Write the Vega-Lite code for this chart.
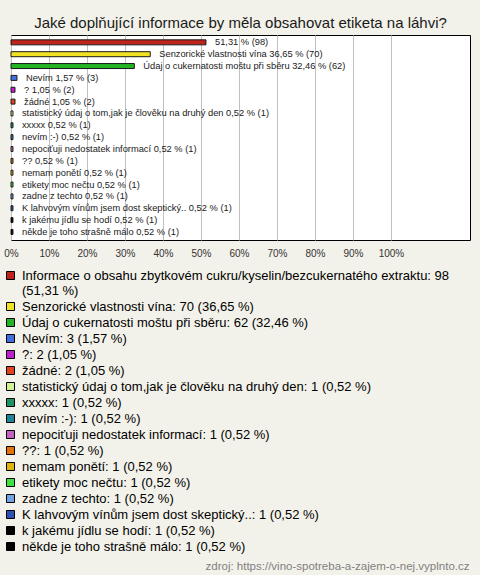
{
  "$schema": "https://vega.github.io/schema/vega-lite/v6.json",
  "width": 459,
  "height": 205,
  "autosize": "none",
  "padding": {"left": 11, "top": 35, "right": 10, "bottom": 335},
  "background": "#f3f2ea",
  "title": {
    "text": "Jaké doplňující informace by měla obsahovat etiketa na láhvi?",
    "font": "Liberation Sans",
    "fontSize": 15,
    "fontWeight": "normal",
    "color": "#1a1a1a",
    "anchor": "middle",
    "baseline": "alphabetic",
    "offset": 9,
    "dy": 17
  },
  "config": {
    "view": {"stroke": "#000000", "strokeWidth": 1, "fill": "#ffffff"},
    "font": "Liberation Sans"
  },
  "data": {
    "values": [
      {"name": "Informace o obsahu zbytkovém cukru/kyselin/bezcukernatého extraktu", "count": 98, "pct": 51.31, "label": "51,31 % (98)", "legend": "Informace o obsahu zbytkovém cukru/kyselin/bezcukernatého extraktu: 98 (51,31 %)"},
      {"name": "Senzorické vlastnosti vína", "count": 70, "pct": 36.65, "label": "Senzorické vlastnosti vína 36,65 % (70)", "legend": "Senzorické vlastnosti vína: 70 (36,65 %)"},
      {"name": "Údaj o cukernatosti moštu při sběru", "count": 62, "pct": 32.46, "label": "Údaj o cukernatosti moštu při sběru 32,46 % (62)", "legend": "Údaj o cukernatosti moštu při sběru: 62 (32,46 %)"},
      {"name": "Nevím", "count": 3, "pct": 1.57, "label": "Nevím 1,57 % (3)", "legend": "Nevím: 3 (1,57 %)"},
      {"name": "?", "count": 2, "pct": 1.05, "label": "? 1,05 % (2)", "legend": "?: 2 (1,05 %)"},
      {"name": "žádné", "count": 2, "pct": 1.05, "label": "žádné 1,05 % (2)", "legend": "žádné: 2 (1,05 %)"},
      {"name": "statistický údaj o tom,jak je člověku na druhý den", "count": 1, "pct": 0.52, "label": "statistický údaj o tom,jak je člověku na druhý den 0,52 % (1)", "legend": "statistický údaj o tom,jak je člověku na druhý den: 1 (0,52 %)"},
      {"name": "xxxxx", "count": 1, "pct": 0.52, "label": "xxxxx 0,52 % (1)", "legend": "xxxxx: 1 (0,52 %)"},
      {"name": "nevím :-)", "count": 1, "pct": 0.52, "label": "nevím :-) 0,52 % (1)", "legend": "nevím :-): 1 (0,52 %)"},
      {"name": "nepociťuji nedostatek informací", "count": 1, "pct": 0.52, "label": "nepociťuji nedostatek informací 0,52 % (1)", "legend": "nepociťuji nedostatek informací: 1 (0,52 %)"},
      {"name": "??", "count": 1, "pct": 0.52, "label": "?? 0,52 % (1)", "legend": "??: 1 (0,52 %)"},
      {"name": "nemam ponětí", "count": 1, "pct": 0.52, "label": "nemam ponětí 0,52 % (1)", "legend": "nemam ponětí: 1 (0,52 %)"},
      {"name": "etikety moc nečtu", "count": 1, "pct": 0.52, "label": "etikety moc nečtu 0,52 % (1)", "legend": "etikety moc nečtu: 1 (0,52 %)"},
      {"name": "zadne z techto", "count": 1, "pct": 0.52, "label": "zadne z techto 0,52 % (1)", "legend": "zadne z techto: 1 (0,52 %)"},
      {"name": "K lahvovým vínům jsem dost skeptický..", "count": 1, "pct": 0.52, "label": "K lahvovým vínům jsem dost skeptický.. 0,52 % (1)", "legend": "K lahvovým vínům jsem dost skeptický..: 1 (0,52 %)"},
      {"name": "k jakému jídlu se hodí", "count": 1, "pct": 0.52, "label": "k jakému jídlu se hodí 0,52 % (1)", "legend": "k jakému jídlu se hodí: 1 (0,52 %)"},
      {"name": "někde je toho strašně málo", "count": 1, "pct": 0.52, "label": "někde je toho strašně málo 0,52 % (1)", "legend": "někde je toho strašně málo: 1 (0,52 %)"}
    ]
  },
  "encoding": {
    "y": {
      "field": "name",
      "type": "nominal",
      "sort": null,
      "axis": null,
      "scale": {"paddingInner": 0, "paddingOuter": 0.15, "align": 0.4}
    },
    "x": {
      "field": "pct",
      "type": "quantitative",
      "scale": {"domain": [0, 120.8], "nice": false, "zero": true},
      "axis": {
        "values": [0, 10, 20, 30, 40, 50, 60, 70, 80, 90, 100],
        "labelExpr": "datum.value + '%'",
        "grid": true,
        "gridColor": "#c0c0c0",
        "gridWidth": 1,
        "gridOpacity": 1,
        "domain": false,
        "ticks": false,
        "labelFont": "Liberation Sans",
        "labelFontSize": 10,
        "labelColor": "#333333",
        "labelPadding": 8,
        "labelFlush": false,
        "encode": {"labels": {"update": {"dx": {"signal": "datum.value === 0 ? 6 : 0"}}}},
        "title": "zdroj: https://vino-spotreba-a-zajem-o-nej.vyplnto.cz",
        "titleX": 458,
        "titleY": 326,
        "titleAlign": "right",
        "titleBaseline": "middle",
        "titleFont": "Liberation Sans",
        "titleFontSize": 11.5,
        "titleFontWeight": "normal",
        "titleColor": "#808080"
      }
    }
  },
  "layer": [
    {
      "mark": {"type": "bar", "height": 5, "stroke": "#1a1a1a", "strokeWidth": 1},
      "encoding": {
        "color": {
          "field": "legend",
          "type": "nominal",
          "sort": null,
          "scale": {
            "range": ["#c0231a", "#f2e224", "#22b422", "#3f6fe0", "#c01fd0", "#e0431e", "#d2f393", "#1f9264", "#1f8496", "#c462c4", "#e37308", "#e2b40a", "#3ee23e", "#70a2e4", "#2f52b2", "#000000", "#000000"]
          },
          "legend": {
            "orient": "none",
            "legendX": -7,
            "legendY": 234,
            "title": null,
            "direction": "vertical",
            "columns": 1,
            "padding": 0,
            "symbolType": "square",
            "symbolSize": 64,
            "symbolStrokeColor": "#000000",
            "symbolStrokeWidth": 1,
            "symbolOpacity": 1,
            "labelFont": "Liberation Sans",
            "labelFontSize": 13,
            "labelColor": "#000000",
            "labelLimit": 600,
            "labelOffset": 5,
            "rowPadding": 2,
            "labelExpr": "indexof(datum.label, 'Informace') === 0 ? ['Informace o obsahu zbytkovém cukru/kyselin/bezcukernatého extraktu: 98', '(51,31 %)'] : datum.label"
          }
        }
      }
    },
    {
      "mark": {"type": "text", "align": "left", "baseline": "middle", "dx": 9, "font": "Liberation Sans", "fontSize": 9.3, "color": "#1a1a1a"},
      "encoding": {"text": {"field": "label"}}
    }
  ]
}
